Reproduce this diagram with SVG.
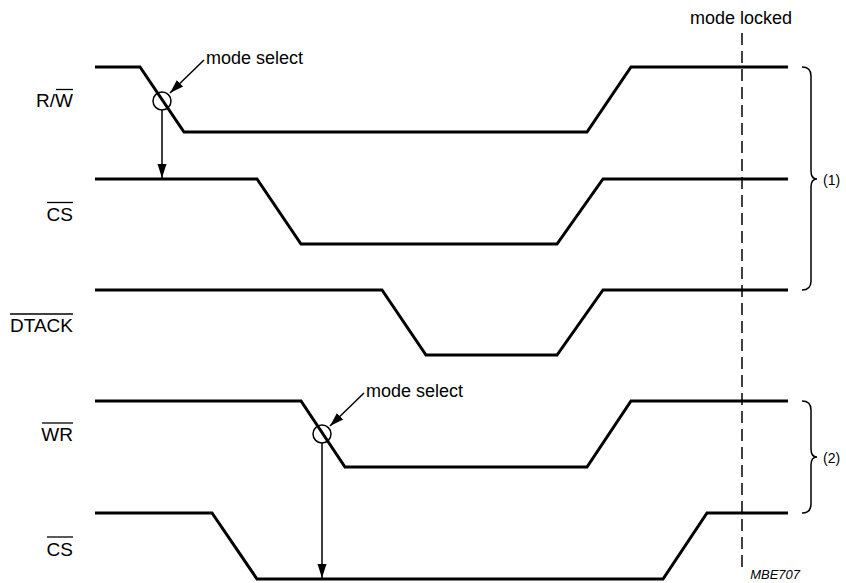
<svg xmlns="http://www.w3.org/2000/svg" width="846" height="583" viewBox="0 0 846 583">
<defs>
<style>
.sig{fill:none;stroke:#000;stroke-width:3;stroke-linejoin:miter}
.thin{fill:none;stroke:#000;stroke-width:1.5}
.lbl{font-family:"Liberation Sans",Arial,sans-serif;font-size:19px;fill:#000}
.ann{font-family:"Liberation Sans",Arial,sans-serif;font-size:18px;fill:#000}
.small{font-family:"Liberation Sans",Arial,sans-serif;font-size:14px;fill:#000}
.ovl{stroke:#000;stroke-width:1.3}
</style>
<marker id="ahb" viewBox="0 0 10 10" refX="10" refY="5" markerWidth="14" markerHeight="14" markerUnits="userSpaceOnUse" orient="auto">
<path d="M0,1.8 L10,5 L0,8.2 Z" fill="#000"/>
</marker>
</defs>
<rect width="846" height="583" fill="#fff"/>

<g id="signal-rw">
<polyline class="sig" points="95,67 140,67 184,132 587,132 631,67 788,67"/>
<text class="lbl" x="73" y="107" text-anchor="end">R/W</text>
<line class="ovl" x1="56" y1="89.5" x2="73" y2="89.5"/>
</g>
<g id="signal-cs1">
<polyline class="sig" points="95,179 257,179 301,244 557,244 603,179 788,179"/>
<text class="lbl" x="73" y="221" text-anchor="end">CS</text>
<line class="ovl" x1="47" y1="202.5" x2="73" y2="202.5"/>
</g>
<g id="signal-dtack">
<polyline class="sig" points="95,290 382,290 426,355 557,355 603,290 788,290"/>
<text class="lbl" x="73" y="332" text-anchor="end">DTACK</text>
<line class="ovl" x1="10" y1="314" x2="73" y2="314"/>
</g>
<g id="signal-wr">
<polyline class="sig" points="95,401 301,401 345,467 587,467 631,401 788,401"/>
<text class="lbl" x="73" y="441" text-anchor="end">WR</text>
<line class="ovl" x1="42" y1="423" x2="73" y2="423"/>
</g>
<g id="signal-cs2">
<polyline class="sig" points="95,513 212,513 257,579 663,579 707,513 788,513"/>
<text class="lbl" x="73" y="556" text-anchor="end">CS</text>
<line class="ovl" x1="47" y1="537" x2="73" y2="537"/>
</g>

<g id="mode-select-1">
<circle class="thin" cx="162" cy="101" r="9"/>
<text class="ann" x="206" y="64">mode select</text>
</g>
<g id="mode-select-2">
<circle class="thin" cx="322" cy="434" r="9"/>
<text class="ann" x="366" y="397">mode select</text>
</g>
<g id="mode-locked">
<line x1="742" y1="33" x2="742" y2="567" stroke="#000" stroke-width="1.5" stroke-dasharray="12,6"/>
<text class="ann" x="690" y="24">mode locked</text>
</g>
<g id="group-1">
<path class="thin" d="M802,67 Q811,67 811,76 L811,171 Q811,179 817,179 Q811,179 811,187 L811,281 Q811,290 802,290"/>
<text class="small" x="823" y="185">(1)</text>
</g>
<g id="group-2">
<path class="thin" d="M802,401 Q811,401 811,410 L811,449 Q811,457 817,457 Q811,457 811,465 L811,504 Q811,513 802,513"/>
<text class="small" x="823" y="463">(2)</text>
</g>
<text x="800" y="579" text-anchor="end" font-family="Liberation Sans, Arial, sans-serif" font-size="13" font-style="italic">MBE707</text>

<g id="connectors">
<line class="thin" x1="162" y1="110" x2="162" y2="178" marker-end="url(#ahb)"/>
<line class="thin" x1="322" y1="443" x2="322" y2="578" marker-end="url(#ahb)"/>
<line class="thin" x1="204" y1="60" x2="170" y2="93" marker-end="url(#ahb)"/>
<line class="thin" x1="364" y1="393" x2="330" y2="426" marker-end="url(#ahb)"/>
</g>
</svg>
